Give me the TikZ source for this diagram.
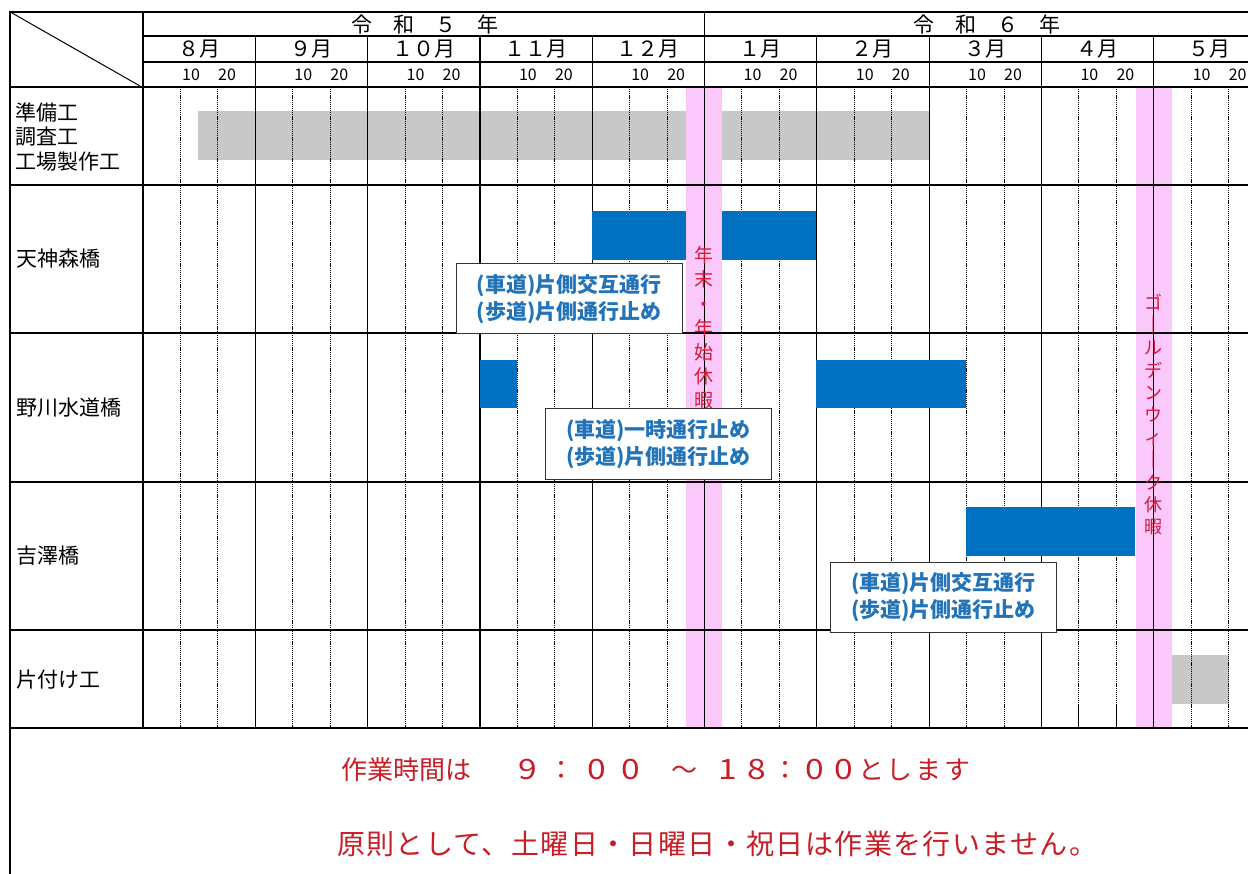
\documentclass[tikz,border=0pt]{standalone}
\usepackage{fontspec}
\usepackage{graphicx}
\newfontfamily\jp{Noto Sans CJK JP}
\definecolor{barblue}{RGB}{0,112,192}
\definecolor{bargray}{RGB}{200,200,200}
\definecolor{holpink}{RGB}{250,200,250}
\definecolor{calltext}{RGB}{35,115,185}
\definecolor{vred}{RGB}{215,25,55}
\definecolor{bred}{RGB}{200,30,40}
\newcommand\dgA[1]{\makebox[34.5pt][c]{\fontsize{28}{30}\selectfont\scalebox{1.2}[1]{#1}}}
\newcommand\dgB[1]{\makebox[29pt][c]{\fontsize{28}{30}\selectfont\scalebox{1.2}[1]{#1}}}
\newcommand\clA{\makebox[34.5pt][c]{：}}
\newcommand\clB{\makebox[29pt][c]{：}}
\tikzset{
  gridline/.style={line width=1.2pt, black},
  frameline/.style={line width=2.6pt, black},
  midline/.style={line width=1.9pt, black},
  dotline/.style={line width=1pt, black, dash pattern=on 1.2pt off 0.9pt},
  lbl/.style={anchor=west, inner sep=0pt, font=\jp\fontsize{21}{24.5}\selectfont, align=left},
  monthlbl/.style={inner sep=0pt, font=\jp\fontsize{21}{22}\selectfont},
  daylbl/.style={inner sep=0pt, font=\jp\fontsize{16}{17}\selectfont},
  callout/.style={draw=black!80, line width=1pt, fill=white, minimum width=226pt, minimum height=70pt, inner sep=0pt, align=center, text=calltext, font=\jp\bfseries\fontsize{21}{27}\selectfont},
  vtext/.style={inner sep=0pt, align=center, text=vred},
  bottomtext/.style={anchor=west, inner sep=0pt, text=bred},
}
\begin{document}
\begin{tikzpicture}[x=1pt,y=-1pt]
\useasboundingbox (0,0) rectangle (1248,874);
\clip (0,0) rectangle (1248,874);
\fill[white] (0,0) rectangle (1248,874);
% background bars
\fill[bargray] (198,111) rectangle (929,160);
\fill[bargray] (1172,655) rectangle (1229,704);
\fill[holpink] (686,87) rectangle (722,728);
\fill[holpink] (1136,87) rectangle (1172,728);
% dotted day lines
\foreach \i in {0,...,9} {
  \pgfmathsetmacro\xa{143+112.3*\i+37.4}
  \pgfmathsetmacro\xb{143+112.3*\i+74.9}
  \draw[dotline] (\xa,87) -- (\xa,728);
  \draw[dotline] (\xb,87) -- (\xb,728);
}
\draw[gridline] (1078.6,705) -- (1078.6,728);
\draw[gridline] (1116.1,705) -- (1116.1,728);
% month lines
\foreach \i in {1,2,3,4,6,7,8,9} {
  \pgfmathsetmacro\xm{143+112.3*\i}
  \draw[gridline] (\xm,36) -- (\xm,728);
}
\draw[gridline] (704.5,12) -- (704.5,728);
% horizontal lines
\draw[gridline] (143,36) -- (1248,36);
\draw[gridline] (143,62) -- (1248,62);
\foreach \yy in {185,333,482,630} { \draw[gridline] (10,\yy) -- (1248,\yy); }
\draw[midline] (10,87) -- (1248,87);
\draw[midline] (143,12) -- (143,728);
\draw[frameline] (10,728) -- (1248,728);
\draw[frameline] (1248,12) -- (10,12) -- (10,874);
\draw[line width=1pt] (12,13) -- (140,86);
% blue bars
\fill[barblue] (592,211) rectangle (686,260);
\fill[barblue] (722,211) rectangle (816,260);
\fill[barblue] (480,360) rectangle (517,408);
\fill[barblue] (816,360) rectangle (966,408);
\fill[barblue] (966,507) rectangle (1135,556);
% header texts
\node[monthlbl] (y5) at (425,24) {令　和　５　年};
\node[monthlbl] (y6) at (987,24) {令　和　６　年};
\foreach \t [count=\i from 0] in {８月,９月,１０月,１１月,１２月,１月,２月,３月,４月,５月} {
  \pgfmathsetmacro\xc{143+112.3*\i+56.15}
  \pgfmathsetmacro\xd{143+112.3*\i+48}
  \pgfmathsetmacro\xe{143+112.3*\i+84}
  \node[monthlbl] (m\i) at (\xc,49) {\t};
  \node[daylbl] (da\i) at (\xd,75) {10};
  \node[daylbl] (db\i) at (\xe,75) {20};
}
% row labels
\node[lbl] (r1) at (15,137) {準備工\\調査工\\工場製作工};
\node[lbl] (r2) at (16,259) {天神森橋};
\node[lbl] (r3) at (16,408) {野川水道橋};
\node[lbl] (r4) at (16,556) {吉澤橋};
\node[lbl] (r5) at (16,680) {片付け工};
% callouts
\node[callout] (c1) at (569,299) {(車道)片側交互通行\\(歩道)片側通行止め};
\node[callout] (c2) at (658.5,444) {(車道)一時通行止め\\(歩道)片側通行止め};
\node[callout] (c3) at (943.5,597) {(車道)片側交互通行\\(歩道)片側通行止め};
% vertical holiday texts
\node[vtext, font=\jp\fontsize{19}{24.2}\selectfont] (nenmatsu) at (704,328) {年\\末\\・\\年\\始\\休\\暇};
\node[vtext, font=\jp\fontsize{18}{22.4}\selectfont] (gw) at (1153,415) {ゴ\\｜\\ル\\デ\\ン\\ウ\\ィ\\｜\\ク\\休\\暇};
% bottom notes
\node[bottomtext, font=\jp\fontsize{26}{30}\selectfont] (hours) at (341,770) {作業時間は\hspace{39pt}\dgA{9}\clA\dgA{0}\dgA{0}\hspace{19pt}\makebox[34pt][c]{～}\hspace{12pt}\dgB{1}\dgB{8}\clB\dgB{0}\dgB{0}{\addfontfeature{LetterSpace=10}とします}};
\node[bottomtext, font=\jp\fontsize{28}{32}\selectfont\addfontfeature{LetterSpace=5}] (rule) at (337,844) {原則として、土曜日・日曜日・祝日は作業を行いません。};
\end{tikzpicture}
\end{document}
